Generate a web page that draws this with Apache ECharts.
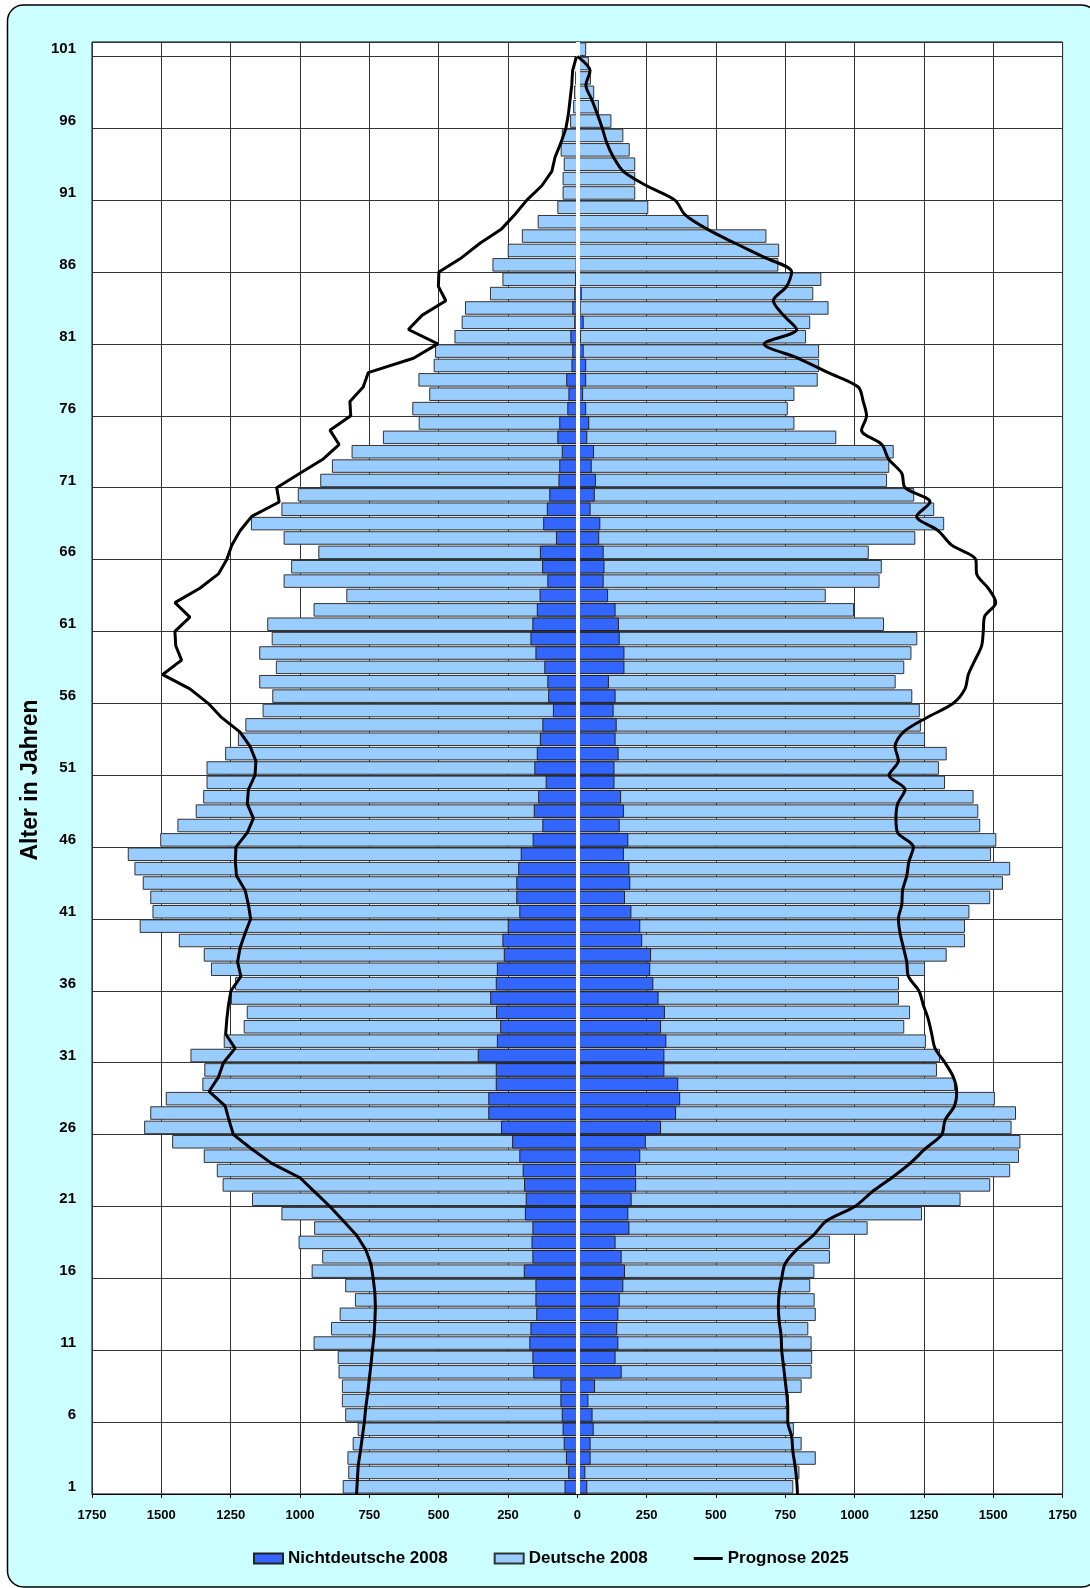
<!DOCTYPE html>
<html><head><meta charset="utf-8">
<script src="https://cdn.jsdelivr.net/npm/echarts/dist/echarts.min.js"></script>
<style>html,body{margin:0;padding:0;background:#fff;} #c{width:1090px;height:1588px;}</style>
</head><body><div id="c"></div>
<script>
// Age categories 1..101 (bottom to top)
const ages = Array.from({length:101}, (_, i) => String(i + 1));
const xTicks = [-1750,-1500,-1250,-1000,-750,-500,-250,0,250,500,750,1000,1250,1500,1750];

// Left side (outer extent of the light bars, i.e. all residents), age 1..101
const leftTotal2008 = [846,826,829,810,792,837,849,849,861,864,
  951,888,857,802,837,958,920,1005,949,1067,
  1173,1279,1300,1347,1461,1562,1540,1484,1352,1345,
  1395,1275,1203,1192,1249,1234,1321,1347,1437,1578,
  1532,1540,1567,1597,1621,1504,1442,1376,1349,1337,
  1337,1270,1224,1197,1135,1100,1147,1087,1147,1102,
  1118,951,833,1059,1032,934,1059,1177,1067,1008,
  927,885,814,701,572,595,534,573,518,513,
  443,417,405,315,270,306,251,200,143,72,
  53,53,49,60,56,26,15,12,8,5,0];
// Left side Nichtdeutsche 2008, age 1..101
const leftForeign2008 = [46,33,41,49,53,56,61,61,159,162,
  173,169,148,151,151,193,162,165,162,189,
  186,192,197,209,235,275,321,321,294,294,
  359,290,278,293,314,294,290,265,270,251,
  209,220,220,213,204,161,126,157,141,114,
  155,146,135,126,88,105,108,119,151,169,
  162,146,136,108,127,135,77,123,110,101,
  68,65,56,72,65,36,32,40,21,18,
  25,11,18,11,8,6,5,5,4,4,
  3,3,3,2,2,2,1,1,1,0,0];
// Right side (outer extent of the light bars), age 1..101
const rightTotal2008 = [779,801,860,809,781,763,763,809,845,847,
  845,833,860,856,840,855,911,911,1047,1243,
  1382,1489,1561,1593,1598,1566,1582,1506,1362,1297,
  1308,1257,1179,1200,1160,1160,1254,1332,1398,1398,
  1414,1489,1535,1561,1492,1511,1453,1446,1429,1326,
  1304,1332,1254,1239,1235,1208,1148,1179,1205,1226,
  1106,998,896,1090,1098,1051,1219,1323,1287,1215,
  1117,1125,1141,934,783,759,783,867,872,872,
  825,840,906,851,880,725,728,682,473,256,
  209,209,209,189,166,123,78,61,49,42,32];
// Right side Nichtdeutsche 2008, age 1..101
const rightForeign2008 = [36,29,48,48,59,55,40,64,160,138,
  148,144,148,153,166,172,160,138,188,184,
  196,212,212,227,247,302,356,371,364,314,
  314,321,302,316,293,274,263,266,234,227,
  195,172,191,188,168,184,153,168,158,134,
  134,149,138,142,131,138,114,170,170,153,
  150,138,111,95,98,95,79,83,48,63,
  67,52,60,36,43,32,21,32,32,23,
  13,23,12,16,8,6,5,4,4,3,
  3,3,2,2,2,2,1,1,1,0,0];
// Prognose 2025, points at age boundaries 0..100 (index = position on age scale)
const leftPrognose2025 = [796,793,790,782,775,768,763,756,750,744,
  739,733,730,728,730,736,744,763,796,844,
  892,946,1000,1102,1174,1240,1256,1270,1328,1294,
  1276,1234,1268,1264,1258,1249,1213,1225,1216,1198,
  1178,1186,1198,1229,1233,1231,1190,1168,1190,1186,
  1162,1159,1180,1216,1282,1331,1397,1495,1427,1448,
  1451,1397,1451,1361,1294,1264,1246,1216,1174,1075,
  1084,1000,916,859,892,817,820,772,754,591,
  503,609,559,474,501,499,417,351,273,225,
  182,128,92,80,59,41,32,26,20,17,3];
const rightPrognose2025 = [794,791,785,777,773,759,759,755,749,743,
  737,735,728,725,728,737,749,791,851,899,
  1001,1062,1134,1200,1254,1314,1326,1360,1368,1356,
  1326,1290,1278,1266,1248,1232,1194,1188,1176,1164,
  1158,1170,1173,1188,1196,1212,1155,1149,1155,1182,
  1124,1158,1146,1176,1260,1356,1398,1410,1434,1458,
  1464,1468,1509,1482,1440,1437,1350,1302,1224,1272,
  1182,1170,1122,1098,1025,1043,1031,1013,905,797,
  674,791,743,707,755,773,677,569,467,388,
  352,250,166,130,106,90,72,52,31,46,0];

const FONT = '"Liberation Sans", Arial, sans-serif';
const chart = echarts.init(document.getElementById('c'), null, {renderer:'canvas'});

const lightStyle = {color:'#99ccff', borderColor:'#333', borderWidth:1};
const darkStyle = {color:'#3366ff', borderColor:'#222', borderWidth:1};

chart.setOption({
  animation:false,
  backgroundColor:'transparent',
  graphic:[
    {type:'rect', z:-10, silent:true,
      shape:{x:7.5, y:5, width:1090, height:1582, r:16},
      style:{fill:'#ccffff', stroke:'#000', lineWidth:1.5}},
    {type:'text', z:10, silent:true, x:31, y:780, rotation:Math.PI/2,
      style:{text:'Alter in Jahren', fontFamily:FONT, fontSize:23, fontWeight:'bold', fill:'#000',
        align:'center', verticalAlign:'middle'}}
  ],
  grid:{left:92, right:27.4, top:42, bottom:94, show:true, backgroundColor:'#fff', borderColor:'#000', borderWidth:1},
  legend:{
    left:248, top:1545, itemWidth:29, itemHeight:10, itemGap:46,
    textStyle:{fontFamily:FONT, fontSize:17, fontWeight:'bold', color:'#000'},
    data:[{name:'Nichtdeutsche 2008', icon:'rect'}, {name:'Deutsche 2008', icon:'rect'},
      {name:'Prognose 2025', icon:'path://M0,0L30,0L30,3L0,3Z'}]
  },
  xAxis:{
    type:'value', min:-1750, max:1750, interval:250,
    axisLine:{show:true, lineStyle:{color:'#000', width:1}},
    axisTick:{show:true, length:4, lineStyle:{color:'#000'}},
    axisLabel:{margin:15, fontFamily:FONT, fontSize:13, fontWeight:'bold', color:'#000',
      formatter:v => String(Math.abs(v))},
    splitLine:{show:true, lineStyle:{color:'#333', width:1}}
  },
  yAxis:[{
    type:'category', data:ages, boundaryGap:true,
    axisLine:{show:true, lineStyle:{color:'#000'}},
    axisTick:{show:false},
    axisLabel:{interval:4, margin:16, fontFamily:FONT, fontSize:15, fontWeight:'bold', color:'#000'},
    splitLine:{show:true, interval:4, lineStyle:{color:'#333', width:1}}
  },{
    type:'value', min:0, max:101, show:false, splitLine:{show:false}
  }],
  series:[
    {name:'Deutsche 2008', type:'bar', yAxisIndex:0, data:leftTotal2008.map(v=>-v),
      barGap:'-100%', barCategoryGap:'6%', itemStyle:lightStyle},
    {name:'Deutsche 2008', type:'bar', yAxisIndex:0, data:rightTotal2008,
      barGap:'-100%', barCategoryGap:'6%', itemStyle:lightStyle},
    {name:'Nichtdeutsche 2008', type:'bar', yAxisIndex:0, data:leftForeign2008.map(v=>-v),
      barGap:'-100%', barCategoryGap:'6%', itemStyle:darkStyle},
    {name:'Nichtdeutsche 2008', type:'bar', yAxisIndex:0, data:rightForeign2008,
      barGap:'-100%', barCategoryGap:'6%', itemStyle:darkStyle,
      markLine:{silent:true, symbol:'none', label:{show:false},
        lineStyle:{color:'#fff', width:4, type:'solid'}, data:[{xAxis:0}]}},
    {name:'Prognose 2025', type:'line', yAxisIndex:1, symbol:'none', smooth:false,
      lineStyle:{color:'#000', width:3}, itemStyle:{color:'#000'}, z:5,
      data:leftPrognose2025.map((v,j)=>[-v, j])},
    {name:'Prognose 2025', type:'line', yAxisIndex:1, symbol:'none', smooth:0.3,
      lineStyle:{color:'#000', width:3}, itemStyle:{color:'#000'}, z:5,
      data:rightPrognose2025.map((v,j)=>[v, j])}
  ]
});
</script></body></html>
